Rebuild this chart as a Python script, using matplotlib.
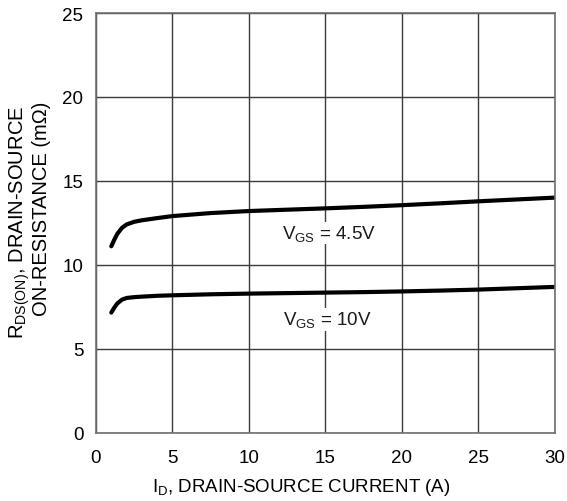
import matplotlib.pyplot as plt

plt.rcParams["font.family"] = ["Liberation Sans", "DejaVu Sans"]
plt.rcParams["mathtext.fontset"] = "custom"
plt.rcParams["mathtext.rm"] = "Liberation Sans"
plt.rcParams["mathtext.it"] = "Liberation Sans"

# drain current (A) and on-resistance (mOhm) for the two gate drives
current = [1, 1.2, 1.4, 1.7, 2, 2.5, 3, 4, 5, 7.5, 10, 12.5, 15, 17.5, 20, 22.5, 25, 27.5, 30]
rds_vgs_4v5 = [11.1, 11.5, 11.85, 12.2, 12.4, 12.56, 12.65, 12.78, 12.9, 13.08, 13.2, 13.28,
               13.36, 13.45, 13.55, 13.66, 13.78, 13.89, 14.0]
rds_vgs_10v = [7.15, 7.45, 7.7, 7.92, 8.02, 8.07, 8.1, 8.15, 8.18, 8.24, 8.28, 8.31,
               8.34, 8.37, 8.41, 8.46, 8.52, 8.6, 8.68]

x_ticks = [0, 5, 10, 15, 20, 25, 30]
y_ticks = [0, 5, 10, 15, 20, 25]

fig = plt.figure(figsize=(5.67, 5.02), dpi=100)
ax = fig.add_axes([0.1693, 0.1363, 0.8095, 0.8358])

ax.plot(current, rds_vgs_4v5, color="black", linewidth=3, solid_capstyle="round")
ax.plot(current, rds_vgs_10v, color="black", linewidth=3, solid_capstyle="round")

ax.set_xlim(0, 30)
ax.set_ylim(0, 25)
ax.set_xticks(x_ticks)
ax.set_yticks(y_ticks)
ax.tick_params(axis="both", length=0, labelsize=13.5)
ax.tick_params(axis="x", pad=12)
ax.tick_params(axis="y", pad=9)
ax.grid(True, color="#3a3a3a", linewidth=1)
for side in ax.spines.values():
    side.set_color("#707070")
    side.set_linewidth(1.2)

# curve labels sit on a white patch that breaks the grid line
box = dict(facecolor="white", edgecolor="none", pad=1)
ax.text(15.2, 11.9, r"V$_{\mathrm{GS}}$ = 4.5V", fontsize=13.5, ha="center", va="center",
        color="#1a1a1a", bbox=box)
ax.text(15.1, 6.75, r"V$_{\mathrm{GS}}$ = 10V", fontsize=13.5, ha="center", va="center",
        color="#1a1a1a", bbox=box)

fig.text(0.531, 0.028, r"I$_{\mathrm{D}}$, DRAIN-SOURCE CURRENT (A)", fontsize=13.5,
         ha="center", va="center")
fig.text(0.035, 0.557, r"R$_{\mathrm{DS(ON)}}$, DRAIN-SOURCE", fontsize=14.5,
         rotation=90, ha="center", va="center")
fig.text(0.074, 0.585, "ON-RESISTANCE (m\u03a9)", fontsize=14.5,
         rotation=90, ha="center", va="center")

fig.savefig("out.png", dpi=100)
